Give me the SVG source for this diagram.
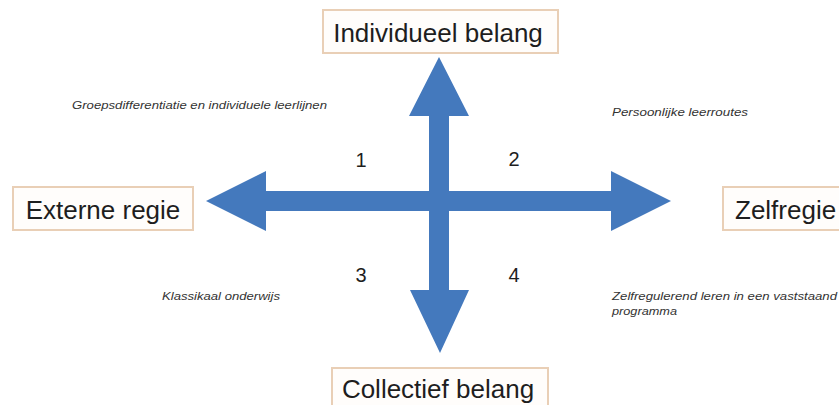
<svg xmlns="http://www.w3.org/2000/svg" width="839" height="405" viewBox="0 0 839 405">
<style>
.box{fill:#fffdfb;stroke:#e9cfb6;stroke-width:2}
.lbl{font-family:"Liberation Sans",Arial,sans-serif;font-size:26px;fill:#1e1e1e}
.num{font-family:"Liberation Sans",Arial,sans-serif;font-size:20px;fill:#1e1e1e}
.note{font-family:"Liberation Sans",Arial,sans-serif;font-size:11px;font-style:italic;fill:#333}
.arrow{fill:#4479bd}
</style>
<rect width="839" height="405" fill="#ffffff"/>
<g id="connectors">
<polygon class="arrow" points="206,201 266,171 266,191 429,191 429,116 409,116 439,57 469,116 449,116 449,191 611,191 611,171 671,201 611,231 611,211 449,211 449,290 469,290 440,353 410,290 429,290 429,211 266,211 266,231"/>
</g>
<g id="node-top">
<rect class="box" x="323" y="10" width="235" height="43"/>
<text class="lbl" x="438" y="42" text-anchor="middle">Individueel belang</text>
</g>
<g id="node-left">
<rect class="box" x="13" y="187" width="180" height="43"/>
<text class="lbl" x="103" y="219" text-anchor="middle">Externe regie</text>
</g>
<g id="node-right">
<rect class="box" x="723" y="187" width="125" height="43"/>
<text class="lbl" x="735" y="219">Zelfregie</text>
</g>
<g id="node-bottom">
<rect class="box" x="332" y="368" width="216" height="45"/>
<text class="lbl" x="438" y="398" text-anchor="middle">Collectief belang</text>
</g>
<g id="q1">
<text class="num" x="361" y="167" text-anchor="middle">1</text>
<text class="note" x="72" y="109" textLength="255" lengthAdjust="spacingAndGlyphs">Groepsdifferentiatie en individuele leerlijnen</text>
</g>
<g id="q2">
<text class="num" x="514" y="166" text-anchor="middle">2</text>
<text class="note" x="612" y="116" textLength="136" lengthAdjust="spacingAndGlyphs">Persoonlijke leerroutes</text>
</g>
<g id="q3">
<text class="num" x="361" y="282" text-anchor="middle">3</text>
<text class="note" x="162" y="300" textLength="118" lengthAdjust="spacingAndGlyphs">Klassikaal onderwijs</text>
</g>
<g id="q4">
<text class="num" x="514" y="282" text-anchor="middle">4</text>
<text class="note" x="612" y="300" textLength="225" lengthAdjust="spacingAndGlyphs">Zelfregulerend leren in een vaststaand</text>
<text class="note" x="612" y="315" textLength="65" lengthAdjust="spacingAndGlyphs">programma</text>
</g>
</svg>
